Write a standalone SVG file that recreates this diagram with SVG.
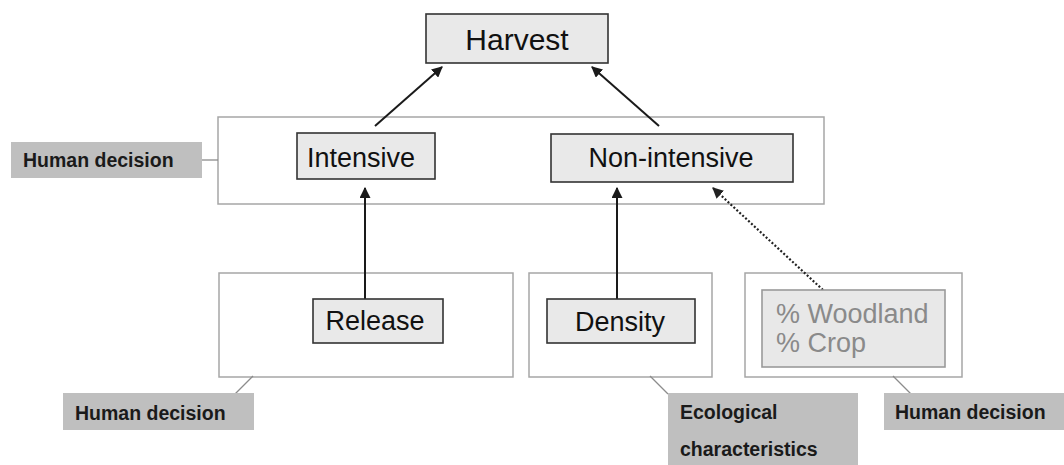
<svg xmlns="http://www.w3.org/2000/svg" width="1064" height="465" viewBox="0 0 1064 465">
<style>
.bg{fill:#ffffff}
.container{fill:#ffffff;stroke:#a6a6a6;stroke-width:1.5}
.node{fill:#e9e9e9;stroke:#333333;stroke-width:1.6}
.node-light{fill:#e8e8e8;stroke:#9a9a9a;stroke-width:1.6}
.label{fill:#bfbfbf;stroke:none}
.ntext{font-family:"Liberation Sans",Arial,sans-serif;font-size:27px;fill:#111111}
.htext{font-family:"Liberation Sans",Arial,sans-serif;font-size:30px;fill:#111111}
.gtext{font-family:"Liberation Sans",Arial,sans-serif;font-size:27px;fill:#8a8a8a}
.ltext{font-family:"Liberation Sans",Arial,sans-serif;font-size:19.5px;font-weight:bold;fill:#1a1a1a}
.edge{stroke:#1a1a1a;stroke-width:2;fill:none}
.dotted{stroke:#222222;stroke-width:2.2;stroke-dasharray:2 2;fill:none}
.lead{stroke:#8c8c8c;stroke-width:1.3;fill:none}
</style>
<defs>
<marker id="arr" viewBox="0 0 10 10" refX="9" refY="5" markerWidth="5.5" markerHeight="5.5" orient="auto" markerUnits="strokeWidth">
<path d="M0,0 L10,5 L0,10 z" fill="#1a1a1a"/>
</marker>
<marker id="arrd" viewBox="0 0 10 10" refX="9" refY="5" markerWidth="5" markerHeight="5" orient="auto" markerUnits="strokeWidth">
<path d="M0,0 L10,5 L0,10 z" fill="#222222"/>
</marker>
</defs>
<rect class="bg" x="0" y="0" width="1064" height="465"/>

<g id="containers">
<rect id="container-top" class="container" x="218" y="117" width="606" height="87"/>
<rect id="container-release" class="container" x="219" y="273" width="294" height="104"/>
<rect id="container-density" class="container" x="529" y="273" width="183" height="104"/>
<rect id="container-landuse" class="container" x="745" y="273" width="217" height="104"/>
</g>

<g id="connectors">
<line class="edge" x1="375" y1="126" x2="442" y2="67" marker-end="url(#arr)"/>
<line class="edge" x1="659" y1="126" x2="592" y2="67" marker-end="url(#arr)"/>
<line class="edge" x1="365" y1="299" x2="365" y2="188" marker-end="url(#arr)"/>
<line class="edge" x1="617" y1="299" x2="617" y2="188" marker-end="url(#arr)"/>
<line class="dotted" x1="823" y1="290" x2="713" y2="188" marker-end="url(#arrd)"/>
<line class="lead" x1="202" y1="160" x2="218" y2="160"/>
<line class="lead" x1="253" y1="376" x2="235" y2="394"/>
<line class="lead" x1="650" y1="376" x2="668" y2="394"/>
<line class="lead" x1="893" y1="376" x2="911" y2="394"/>
</g>

<g id="harvest">
<rect class="node" x="426" y="14" width="182" height="49"/>
<text class="htext" x="517" y="50" text-anchor="middle">Harvest</text>
</g>

<g id="intensive">
<rect class="node" x="297" y="133" width="138" height="46"/>
<text class="ntext" x="361" y="167" text-anchor="middle">Intensive</text>
</g>

<g id="non-intensive">
<rect class="node" x="551" y="134" width="242" height="48"/>
<text class="ntext" x="671" y="167" text-anchor="middle">Non-intensive</text>
</g>

<g id="release">
<rect class="node" x="313" y="299" width="130" height="44"/>
<text class="ntext" x="375" y="330" text-anchor="middle">Release</text>
</g>

<g id="density">
<rect class="node" x="547" y="299" width="148" height="44"/>
<text class="ntext" x="620" y="331" text-anchor="middle">Density</text>
</g>

<g id="landuse">
<rect class="node-light" x="762" y="290" width="183" height="77"/>
<text class="gtext" x="776" y="323">% Woodland</text>
<text class="gtext" x="776" y="352">% Crop</text>
</g>

<g id="label-human-top">
<rect class="label" x="11" y="142" width="191" height="36"/>
<text class="ltext" x="23" y="167">Human decision</text>
</g>

<g id="label-human-release">
<rect class="label" x="63" y="393" width="191" height="37"/>
<text class="ltext" x="75" y="420">Human decision</text>
</g>

<g id="label-ecological">
<rect class="label" x="668" y="393" width="190" height="72"/>
<text class="ltext" x="680" y="419">Ecological</text>
<text class="ltext" x="680" y="456">characteristics</text>
</g>

<g id="label-human-landuse">
<rect class="label" x="884" y="393" width="180" height="37"/>
<text class="ltext" x="895" y="419">Human decision</text>
</g>
</svg>
